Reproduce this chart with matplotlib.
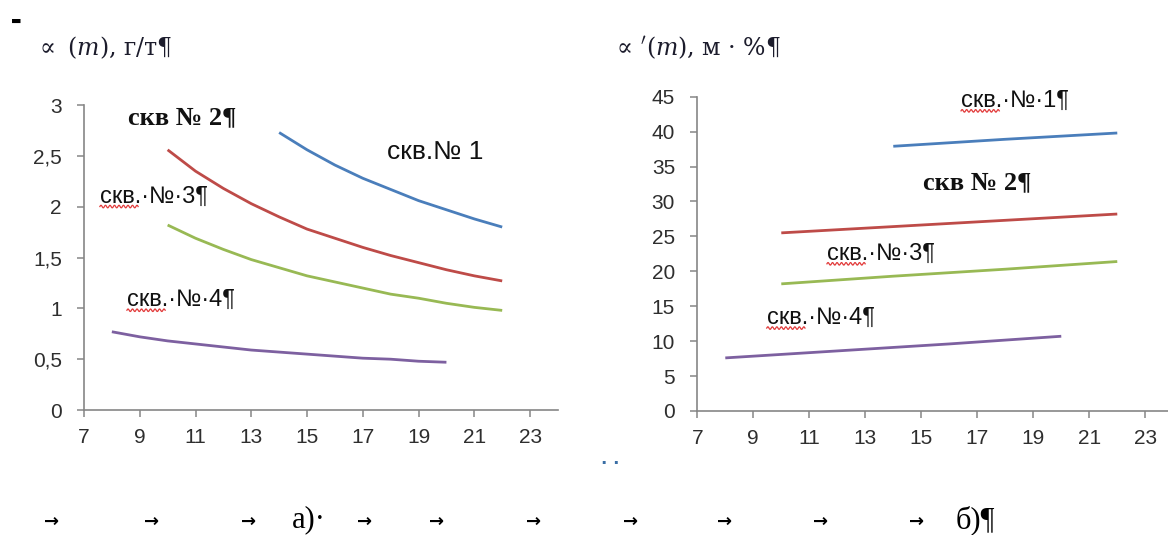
import numpy as np
import matplotlib
matplotlib.use("Agg")
import matplotlib.pyplot as plt
from matplotlib import font_manager
from matplotlib.lines import Line2D
from matplotlib.transforms import IdentityTransform

# --- data: left panel, concentration vs. m (г/т) ---
X1_L = [14, 15, 16, 17, 18, 19, 20, 21, 22]
Y1_L = [2.73, 2.56, 2.41, 2.28, 2.17, 2.06, 1.97, 1.88, 1.80]
X2_L = [10, 11, 12, 13, 14, 15, 16, 17, 18, 19, 20, 21, 22]
Y2_L = [2.56, 2.35, 2.18, 2.03, 1.90, 1.78, 1.69, 1.60, 1.52, 1.45, 1.38, 1.32, 1.27]
X3_L = [10, 11, 12, 13, 14, 15, 16, 17, 18, 19, 20, 21, 22]
Y3_L = [1.82, 1.69, 1.58, 1.48, 1.40, 1.32, 1.26, 1.20, 1.14, 1.10, 1.05, 1.01, 0.98]
X4_L = [8, 9, 10, 11, 12, 13, 14, 15, 16, 17, 18, 19, 20]
Y4_L = [0.77, 0.72, 0.68, 0.65, 0.62, 0.59, 0.57, 0.55, 0.53, 0.51, 0.50, 0.48, 0.47]

# --- data: right panel, productivity vs. m (м·%) ---
X1_R = [14, 18, 22]
Y1_R = [37.9, 38.9, 39.8]
X2_R = [10, 14, 18, 22]
Y2_R = [25.5, 26.4, 27.3, 28.2]
X3_R = [10, 14, 18, 22]
Y3_R = [18.2, 19.3, 20.3, 21.4]
X4_R = [8, 12, 16, 20]
Y4_R = [7.6, 8.6, 9.6, 10.7]

X_TICKS = [7, 9, 11, 13, 15, 17, 19, 21, 23]
Y_TICKS_L = [0, 0.5, 1, 1.5, 2, 2.5, 3]
Y_LABELS_L = ["0", "0,5", "1", "1,5", "2", "2,5", "3"]
Y_TICKS_R = [0, 5, 10, 15, 20, 25, 30, 35, 40, 45]

BLUE, RED, GREEN, PURPLE = "#4a7ebb", "#be4b48", "#98b954", "#7d60a0"
AXIS = "#868686"
INK = "#111111"

installed = {f.name for f in font_manager.fontManager.ttflist}
TICK_FONT = "Liberation Sans Narrow" if "Liberation Sans Narrow" in installed else "Liberation Sans"

plt.rcParams["mathtext.fontset"] = "dejavuserif"

fig = plt.figure(figsize=(11.68, 5.35), dpi=100)
fig.patch.set_facecolor("white")

ax_l = fig.add_axes([0.0719, 0.2336, 0.4058, 0.570])
ax_r = fig.add_axes([0.597, 0.2318, 0.4075, 0.5875])


def style_axes(ax):
    for s in ["top", "right"]:
        ax.spines[s].set_visible(False)
    for s in ["left", "bottom"]:
        ax.spines[s].set_color(AXIS)
        ax.spines[s].set_linewidth(1.2)
    ax.tick_params(axis="both", direction="out", length=5, width=1.1, color=AXIS,
                   labelcolor="#2e2e2e", labelsize=15)
    ax.tick_params(axis="x", pad=8)
    ax.tick_params(axis="y", pad=11)
    for lab in ax.get_xticklabels() + ax.get_yticklabels():
        lab.set_fontfamily(TICK_FONT)


lw = 2.0
ax_l.plot(X1_L, Y1_L, color=BLUE, lw=lw, solid_capstyle="butt")
ax_l.plot(X2_L, Y2_L, color=RED, lw=lw, solid_capstyle="butt")
ax_l.plot(X3_L, Y3_L, color=GREEN, lw=lw, solid_capstyle="butt")
ax_l.plot(X4_L, Y4_L, color=PURPLE, lw=lw, solid_capstyle="butt")
ax_l.set_xlim(7, 24)
ax_l.set_ylim(0, 3)
ax_l.set_xticks(X_TICKS)
ax_l.set_yticks(Y_TICKS_L)
ax_l.set_yticklabels(Y_LABELS_L)
style_axes(ax_l)

ax_r.plot(X1_R, Y1_R, color=BLUE, lw=lw, solid_capstyle="butt")
ax_r.plot(X2_R, Y2_R, color=RED, lw=lw, solid_capstyle="butt")
ax_r.plot(X3_R, Y3_R, color=GREEN, lw=lw, solid_capstyle="butt")
ax_r.plot(X4_R, Y4_R, color=PURPLE, lw=lw, solid_capstyle="butt")
ax_r.set_xlim(7, 24)
ax_r.set_ylim(0, 45)
ax_r.set_xticks(X_TICKS)
ax_r.set_yticks(Y_TICKS_R)
style_axes(ax_r)

# axis titles
fig.text(0.030, 0.910, r"$\propto\ (m)$, г/т¶", fontsize=17, family="DejaVu Serif",
         color="#1c1c2c", va="center")
fig.text(0.524, 0.910, r"$\propto\,'(m)$, м · %¶", fontsize=17, family="DejaVu Serif",
         color="#1c1c2c", va="center")

SERIF = dict(family="Liberation Serif", fontsize=19, fontweight="bold", color=INK, va="center")
SANS = dict(family="Liberation Sans", fontsize=17, color=INK, va="center")

squiggled = []
ax_l.text(8.57, 2.88, "скв № 2¶", **SERIF)
ax_l.text(17.86, 2.54, "скв.№ 1", **{**SANS, "fontsize": 19})
squiggled.append((ax_l, ax_l.text(7.57, 2.10, "скв.·№·3¶", **SANS)))
squiggled.append((ax_l, ax_l.text(8.54, 1.08, "скв.·№·4¶", **SANS)))

squiggled.append((ax_r, ax_r.text(16.42, 44.4, "скв.·№·1¶", **SANS)))
ax_r.text(15.06, 32.7, "скв № 2¶", **SERIF)
squiggled.append((ax_r, ax_r.text(11.63, 22.5, "скв.·№·3¶", **SANS)))
squiggled.append((ax_r, ax_r.text(9.48, 13.3, "скв.·№·4¶", **SANS)))

# caption row with tab arrows
for xp in [52, 152, 249, 365, 437, 534, 631, 725, 821, 917]:
    fig.text(xp / 1168, 1 - 522 / 535, "→", fontsize=13, fontweight="bold",
             family="DejaVu Sans", color="black", ha="center", va="center")
fig.text(292 / 1168, 1 - 520 / 535, "а)·", fontsize=22, family="Liberation Serif",
         color="black", va="center")
fig.text(956 / 1168, 1 - 520 / 535, "б)¶", fontsize=22, family="Liberation Serif",
         color="black", va="center")
fig.text(610 / 1168, 1 - 464 / 535, "· ·", fontsize=12, fontweight="bold", color="#3a6ea5",
         ha="center", va="center")
fig.text(16 / 1168, 1 - 21 / 535, "▬", fontsize=8, color="black",
         ha="center", va="center")

# spell-check style wavy underline below "скв."
fig.canvas.draw()
renderer = fig.canvas.get_renderer()
for ax, t in squiggled:
    full = t.get_window_extent(renderer)
    x0, y0 = t.get_position()
    tmp = ax.text(x0, y0, "скв.", **SANS)
    part = tmp.get_window_extent(renderer)
    tmp.remove()
    xs = np.linspace(part.x0, part.x1 - 3, 80)
    ys = full.y0 + 1.0 + 1.3 * np.sin((xs - part.x0) * 2 * np.pi / 4.5)
    fig.add_artist(Line2D(xs, ys, transform=IdentityTransform(), color="#e23b3b", lw=0.9))

fig.savefig("out.png", dpi=100)
